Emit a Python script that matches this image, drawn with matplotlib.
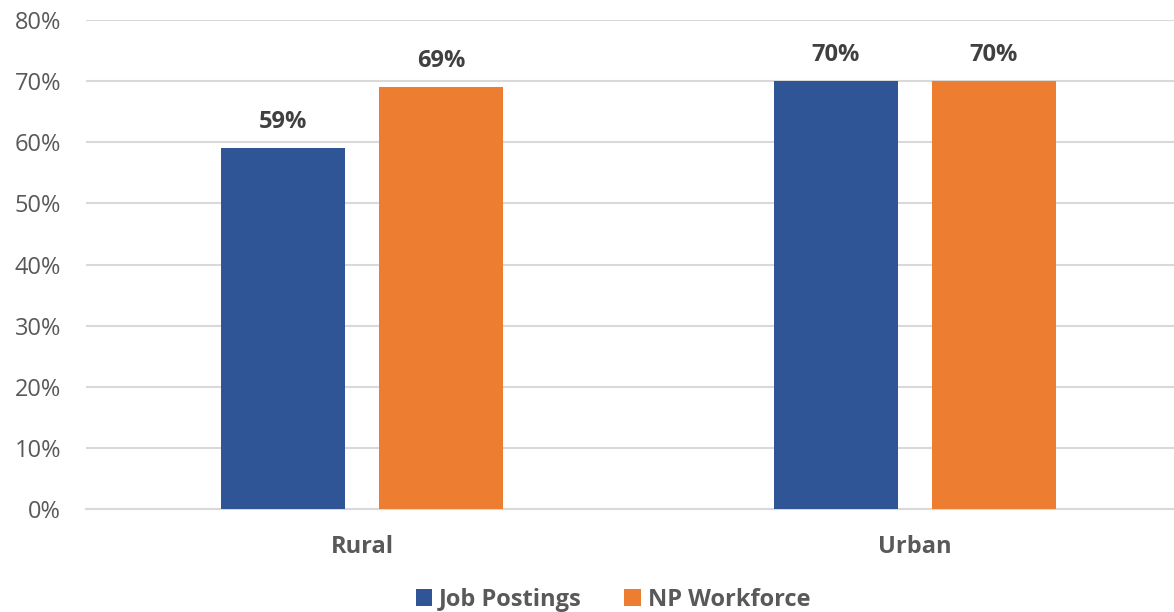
import matplotlib.pyplot as plt
import numpy as np

categories = ["Rural", "Urban"]
job_postings = [59, 70]
np_workforce = [69, 70]
series_names = ["Job Postings", "NP Workforce"]
colors = ["#2F5597", "#ED7D31"]

plt.rcParams['font.family'] = ['Open Sans', 'DejaVu Sans']

fig = plt.figure(figsize=(11.74, 6.12), dpi=100)
ax = fig.add_axes([86 / 1174, 1 - 509 / 612, 1 - 86 / 1174, (509 - 20) / 612])

x = np.arange(len(categories))
width = 0.224
offset = 0.143

for vals, off, col, name in zip([job_postings, np_workforce], [-offset, offset],
                                colors, series_names):
    b = ax.bar(x + off, vals, width, color=col, label=name, zorder=3)
    for rect, v in zip(b, vals):
        ax.annotate(f"{v}%", (rect.get_x() + rect.get_width() / 2, v),
                    xytext=(0, 19), textcoords="offset points",
                    ha="center", va="center", fontsize=17, fontweight="bold",
                    color="#404040")

ax.set_xlim(-0.5, 1.469)
ax.set_ylim(0, 80)
ax.set_yticks(range(0, 81, 10))
ax.set_yticklabels([f"{t}%" for t in range(0, 81, 10)])
ax.set_xticks(x)
ax.set_xticklabels(categories, fontweight="bold")

ax.grid(axis="y", color="#D9D9D9", linewidth=1.5, zorder=0)
for s in ["top", "right", "left"]:
    ax.spines[s].set_visible(False)
ax.spines["bottom"].set_color("#D9D9D9")
ax.spines["bottom"].set_linewidth(1.5)
ax.tick_params(axis="both", length=0, labelsize=17, colors="#595959")
ax.tick_params(axis="y", pad=18)
ax.tick_params(axis="x", pad=19)

ax.legend(loc="lower center", bbox_to_anchor=(613 / 1174, -9 / 612),
          bbox_transform=fig.transFigure, ncol=2, frameon=False,
          prop={"weight": "bold", "size": 17}, labelcolor="#595959",
          handlelength=0.7, handleheight=0.7, handletextpad=0.3,
          columnspacing=1.8, borderaxespad=0)

fig.savefig("out.png", dpi=100)
